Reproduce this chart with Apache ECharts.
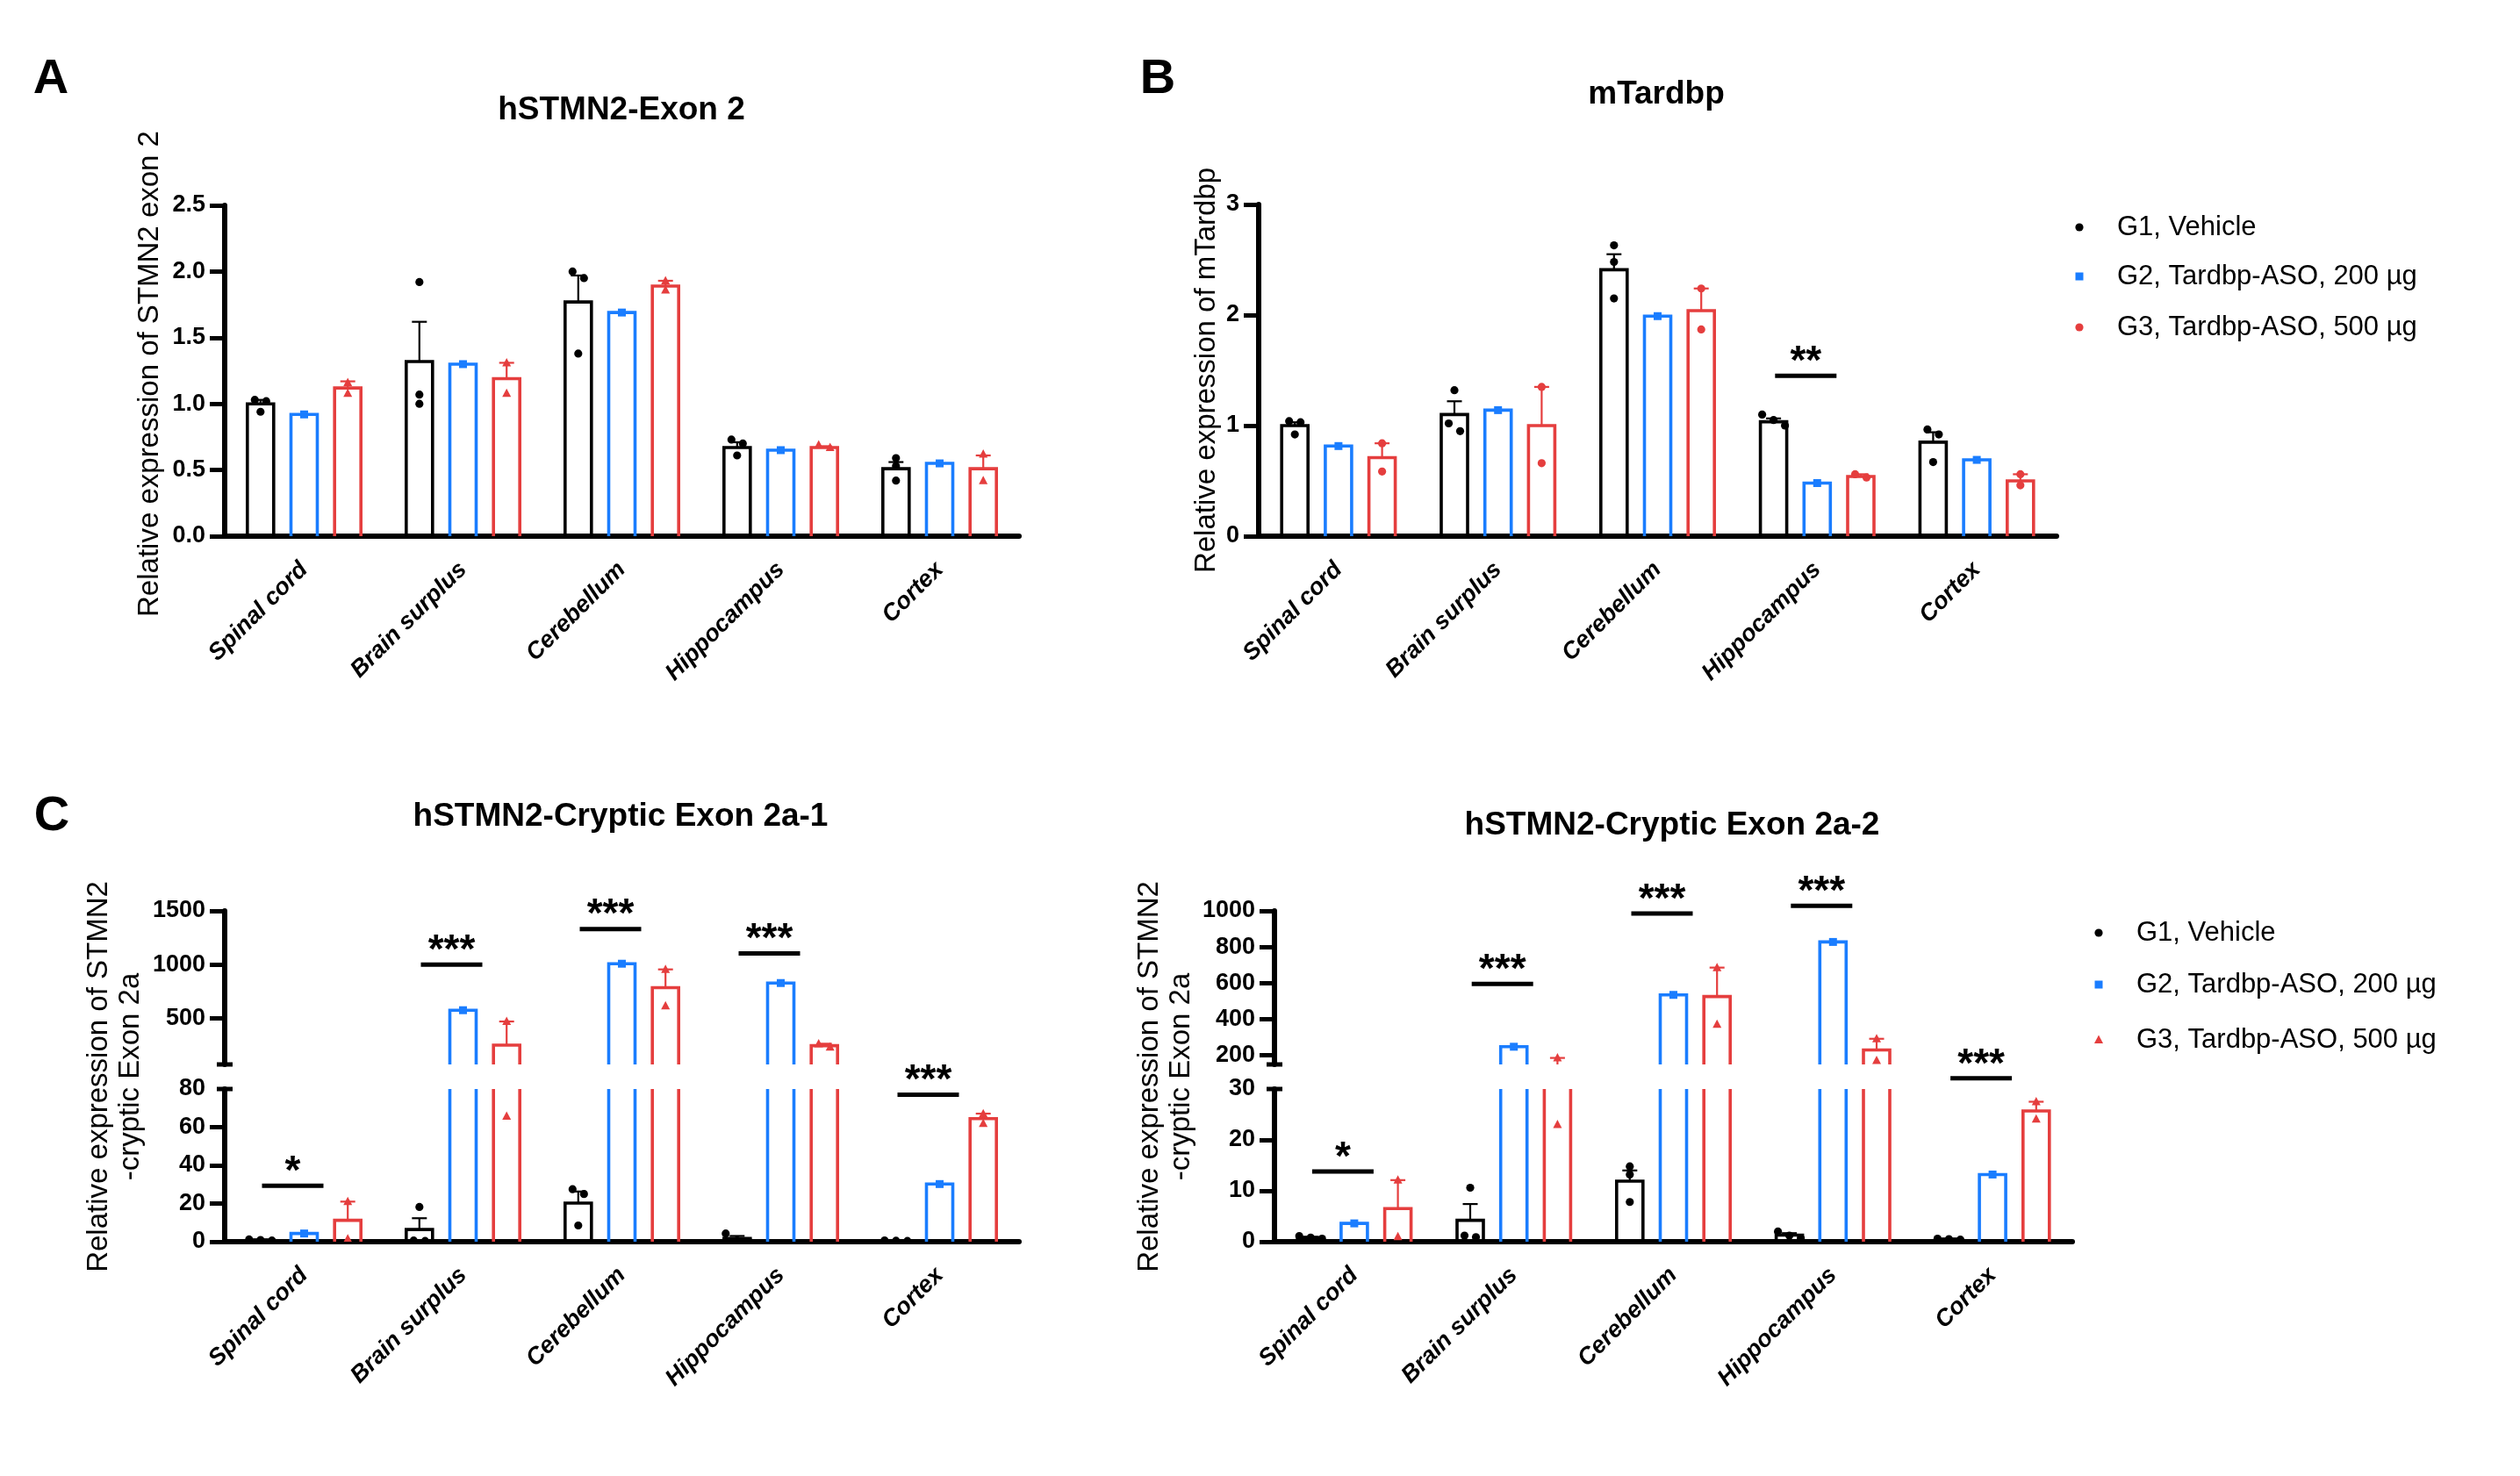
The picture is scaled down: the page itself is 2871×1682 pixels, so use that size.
<!DOCTYPE html>
<html>
<head>
<meta charset="utf-8">
<script src="https://cdn.jsdelivr.net/npm/echarts@6/dist/echarts.min.js"></script>
<style>
html, body { margin: 0; padding: 0; background: #fff; }
#main { width: 2871px; height: 1682px; }
</style>
</head>
<body>
<div id="main"></div>
<script>
var FONT = '"Liberation Sans", Arial, sans-serif';

var tissues = ['Spinal cord', 'Brain surplus', 'Cerebellum', 'Hippocampus', 'Cortex'];
var groupNames = ['G1, Vehicle', 'G2, Tardbp-ASO, 200 µg', 'G3, Tardbp-ASO, 500 µg'];
var groupColors = ['#000000', '#1a7dff', '#e53e3e'];

// A: hSTMN2-Exon 2
var exon2G1Mean = [1.00, 1.32, 1.77, 0.67, 0.51];
var exon2G1Sem = [0.03, 0.30, 0.20, 0.04, 0.05];
var exon2G1Pts = [[1.03, 1.02, 0.94], [1.92, 1.07, 1.00], [2.00, 1.95, 1.38], [0.73, 0.70, 0.61], [0.59, 0.53, 0.42]];
var exon2G2Mean = [0.92, 1.30, 1.69, 0.65, 0.55];
var exon2G3Mean = [1.12, 1.19, 1.89, 0.67, 0.51];
var exon2G3Sem = [0.05, 0.12, 0.04, 0.01, 0.10];
var exon2G3Pts = [[1.16, 1.08], [1.31, 1.08], [1.93, 1.86], [0.69, 0.67], [0.62, 0.42]];

// B: mTardbp
var tardG1Mean = [1.00, 1.10, 2.41, 1.035, 0.85];
var tardG1Sem = [0.03, 0.12, 0.14, 0.03, 0.09];
var tardG1Pts = [[1.04, 1.03, 0.92], [1.32, 1.02, 0.95], [2.63, 2.48, 2.15], [1.10, 1.05, 1.00], [0.965, 0.92, 0.67]];
var tardG2Mean = [0.815, 1.14, 1.99, 0.48, 0.69];
var tardG3Mean = [0.71, 1.00, 2.04, 0.54, 0.50];
var tardG3Sem = [0.13, 0.35, 0.20, 0.02, 0.06];
var tardG3Pts = [[0.84, 0.585], [1.35, 0.66], [2.24, 1.87], [0.56, 0.53], [0.56, 0.46]];
var tardSig = [{ cat: 3, val: 1.45, text: '**', seg: 0 }];

// C left: hSTMN2-Cryptic Exon 2a-1
var cry1G1Mean = [0.9, 6.4, 20.2, 1.7, 0.5];
var cry1G1Sem = [0.2, 5.9, 6.1, 1.3, 0.1];
var cry1G1Pts = [[1.2, 0.9, 0.6], [18.2, 0.6, 0.4], [27.5, 25, 8.5], [4.3, 0.6, 0.2], [0.7, 0.5, 0.4]];
var cry1G2Mean = [4.3, 575, 1008, 828, 30.2];
var cry1G3Mean = [11.2, 250, 785, 245, 64.5];
var cry1G3Sem = [9.8, 220, 170, 18, 2.6];
var cry1G3Pts = [[21, 1.5], [470, 65.7], [955, 615], [262, 232], [67, 62]];
var cry1Sig = [
    { cat: 0, val: 29.3, text: '*', seg: 1 },
    { cat: 1, val: 1000, text: '***', seg: 0 },
    { cat: 2, val: 1331, text: '***', seg: 0 },
    { cat: 3, val: 1104, text: '***', seg: 0 },
    { cat: 4, val: 77, text: '***', seg: 1 }
];

// C right: hSTMN2-Cryptic Exon 2a-2
var cry2G1Mean = [0.8, 4.2, 11.9, 1.3, 0.5];
var cry2G1Sem = [0.15, 3.2, 2.1, 0.38, 0.06];
var cry2G1Pts = [[1.1, 0.8, 0.6], [10.6, 1.2, 0.9], [14.8, 13.2, 7.8], [2.0, 1.2, 0.7], [0.6, 0.5, 0.4]];
var cry2G2Mean = [3.6, 248, 535, 828, 13.2];
var cry2G3Mean = [6.5, 104.5, 526, 230, 25.7];
var cry2G3Sem = [5.6, 81.5, 160, 62, 1.8];
var cry2G3Pts = [[12.1, 1.0], [186, 23], [686, 372], [292, 172], [27.5, 24.1]];
var cry2Sig = [
    { cat: 0, val: 13.8, text: '*', seg: 1 },
    { cat: 1, val: 596, text: '***', seg: 0 },
    { cat: 2, val: 986, text: '***', seg: 0 },
    { cat: 3, val: 1028, text: '***', seg: 0 },
    { cat: 4, val: 32.1, text: '***', seg: 1 }
];

var option = {
    animation: false,
    backgroundColor: '#fff',
    grid: [], xAxis: [], yAxis: [], series: [], graphic: []
};

// spread points that sit on top of each other (like a scatter dot plot)
function spreadX(ys) {
    var order = ys.map(function (y, i) { return i; }).sort(function (a, b) { return ys[a] - ys[b]; });
    var offs = ys.map(function () { return 0; });
    var i = 0;
    while (i < order.length) {
        var j = i;
        while (j + 1 < order.length && ys[order[j + 1]] - ys[order[j]] < 9) j++;
        var n = j - i + 1;
        for (var k = 0; k < n; k++) offs[order[i + k]] = (k - (n - 1) / 2) * 13;
        i = j + 1;
    }
    return offs;
}

function marker(shape, x, y, col) {
    if (shape === 'rect') {
        return { type: 'rect', shape: { x: x - 4.5, y: y - 4.5, width: 9, height: 9 }, style: { fill: col } };
    }
    if (shape === 'triangle') {
        return { type: 'polygon', shape: { points: [[x, y - 5.5], [x + 5, y + 4], [x - 5, y + 4]] }, style: { fill: col } };
    }
    return { type: 'circle', shape: { cx: x, cy: y, r: 4.6 }, style: { fill: col } };
}

function groupRenderer(g, means, sems, pts, shape, lo, hi) {
    var col = groupColors[g];
    function inside(v) { return v >= lo && v <= hi; }
    return function (params, api) {
        var i = params.dataIndex;
        var kids = [];
        var top = api.coord([i, means[i]]);
        var base = api.coord([i, 0]);
        var cx = top[0] + (g - 1) * 49.7;
        var hw = 15;
        if (means[i] >= lo) {   // bar top below this segment: leave the bar out
            kids.push({
                type: 'polyline',
                shape: { points: [[cx - hw, base[1]], [cx - hw, top[1]], [cx + hw, top[1]], [cx + hw, base[1]]] },
                style: { stroke: col, lineWidth: 3.6, fill: 'none', lineJoin: 'miter' }
            });
        }
        if (sems && sems[i] > 0) {
            var ev = means[i] + sems[i];
            var e = api.coord([i, ev]);
            if (ev >= lo) {
                kids.push({ type: 'line', shape: { x1: cx, y1: top[1], x2: cx, y2: e[1] }, style: { stroke: col, lineWidth: 2.2 } });
            }
            if (inside(ev)) {
                kids.push({ type: 'line', shape: { x1: cx - 8.5, y1: e[1], x2: cx + 8.5, y2: e[1] }, style: { stroke: col, lineWidth: 2.2 } });
            }
        }
        var vals = (pts ? pts[i] : [means[i]]).filter(inside);
        var ys = vals.map(function (v) { return api.coord([i, v])[1]; });
        var offs = spreadX(ys);
        ys.forEach(function (y, k) { kids.push(marker(shape, cx + offs[k], y, col)); });
        return { type: 'group', children: kids };
    };
}

function sigRenderer(list) {
    return function (params, api) {
        var s = list[params.dataIndex];
        var c = api.coord([s.cat, s.val]);
        var x0 = c[0] - 48, x1 = c[0] + 22;
        return {
            type: 'group',
            children: [
                { type: 'line', shape: { x1: x0, y1: c[1], x2: x1, y2: c[1] }, style: { stroke: '#000', lineWidth: 5 } },
                {
                    type: 'text', x: (x0 + x1) / 2, y: c[1] - 15,
                    style: { text: s.text, font: 'bold 46px ' + FONT, fill: '#000', align: 'center', verticalAlign: 'middle', textAlign: 'center', textVerticalAlign: 'middle' }
                }
            ]
        };
    };
}

function breakRenderer(atBottom) {
    return function (params) {
        var cs = params.coordSys;
        var y = atBottom ? cs.y + cs.height : cs.y;
        return { type: 'line', shape: { x1: cs.x - 9, y1: y, x2: cs.x + 9, y2: y }, style: { stroke: '#000', lineWidth: 5 } };
    };
}

function plain(v) { return String(v); }
function fmt1(v) { return v.toFixed(1); }

// one axis segment = one grid (broken axes use two)
function addSegment(seg, panel, segIndex) {
    var idx = option.grid.length;
    option.grid.push({ left: seg.left, top: seg.top, width: seg.width, height: seg.height });
    option.xAxis.push({
        type: 'category', gridIndex: idx, data: tissues, show: seg.showX,
        axisLine: { onZero: false, lineStyle: { color: '#000', width: 6 } },
        axisTick: { alignWithLabel: true, length: 17, lineStyle: { color: '#000', width: 5 } },
        axisLabel: { rotate: 45, margin: 34, color: '#000', fontSize: 27, fontWeight: 'bold', fontStyle: 'italic', fontFamily: FONT }
    });
    var y = {
        type: 'value', gridIndex: idx, min: seg.min, max: seg.max,
        axisLine: { show: true, lineStyle: { color: '#000', width: 6 } },
        axisTick: { show: true, length: 17, lineStyle: { color: '#000', width: 5 } },
        splitLine: { show: false },
        axisLabel: { margin: 22, color: '#000', fontSize: 27, fontWeight: 'bold', fontFamily: FONT, formatter: seg.fmt || plain }
    };
    if (seg.interval) y.interval = seg.interval;
    if (seg.ticks) {
        y.axisTick.customValues = seg.ticks;
        y.axisLabel.customValues = seg.labels;
    }
    option.yAxis.push(y);

    var cats = tissues.map(function (t, i) { return [i, 0]; });
    panel.groups.forEach(function (gr, g) {
        option.series.push({
            type: 'custom', name: groupNames[g], xAxisIndex: idx, yAxisIndex: idx,
            clip: true, data: cats, encode: { x: 0, y: 1 },
            renderItem: groupRenderer(g, gr.mean, gr.sem, gr.pts, gr.shape, seg.min, seg.max)
        });
    });
    if (panel.sig) {
        var mine = panel.sig.filter(function (s) { return s.seg === segIndex; });
        if (mine.length) {
            option.series.push({
                type: 'custom', xAxisIndex: idx, yAxisIndex: idx, clip: false, z: 5,
                data: mine.map(function (s) { return [s.cat, s.val]; }), encode: { x: 0, y: 1 },
                renderItem: sigRenderer(mine)
            });
        }
    }
    if (seg.breakMark) {
        option.series.push({
            type: 'custom', xAxisIndex: idx, yAxisIndex: idx, clip: false, z: 6,
            data: [[0, seg.min]], encode: { x: 0, y: 1 },
            renderItem: breakRenderer(seg.breakMark === 'bottom')
        });
    }
}

function text(str, x, y, font, rotation) {
    option.graphic.push({
        type: 'text', x: x, y: y, rotation: rotation || 0,
        style: { text: str, font: font, fill: '#000', textAlign: 'center', textVerticalAlign: 'middle', lineHeight: 36 }
    });
}

function legendAt(mx, tx, rows, redShape) {
    var shapes = ['circle', 'rect', redShape];
    rows.forEach(function (y, g) {
        option.graphic.push(marker(shapes[g], mx, y, groupColors[g]));
        option.graphic.push({
            type: 'text', x: tx, y: y,
            style: { text: groupNames[g], font: '31px ' + FONT, fill: '#000', textAlign: 'left', textVerticalAlign: 'middle' }
        });
    });
}

// panel A
addSegment({ left: 256, top: 234, width: 905, height: 377, min: 0, max: 2.5, interval: 0.5, fmt: fmt1, showX: true }, {
    groups: [
        { mean: exon2G1Mean, sem: exon2G1Sem, pts: exon2G1Pts, shape: 'circle' },
        { mean: exon2G2Mean, sem: null, pts: null, shape: 'rect' },
        { mean: exon2G3Mean, sem: exon2G3Sem, pts: exon2G3Pts, shape: 'triangle' }
    ]
}, 0);

// panel B
addSegment({ left: 1434, top: 233, width: 909, height: 378, min: 0, max: 3, interval: 1, showX: true }, {
    groups: [
        { mean: tardG1Mean, sem: tardG1Sem, pts: tardG1Pts, shape: 'circle' },
        { mean: tardG2Mean, sem: null, pts: null, shape: 'rect' },
        { mean: tardG3Mean, sem: tardG3Sem, pts: tardG3Pts, shape: 'circle' }
    ],
    sig: tardSig
}, 0);

// panel C, left
var cry1Panel = {
    groups: [
        { mean: cry1G1Mean, sem: cry1G1Sem, pts: cry1G1Pts, shape: 'circle' },
        { mean: cry1G2Mean, sem: null, pts: null, shape: 'rect' },
        { mean: cry1G3Mean, sem: cry1G3Sem, pts: cry1G3Pts, shape: 'triangle' }
    ],
    sig: cry1Sig
};
addSegment({ left: 256, top: 1038, width: 905, height: 175, min: 70, max: 1500, ticks: [500, 1000, 1500], labels: [500, 1000, 1500], showX: false, breakMark: 'bottom' }, cry1Panel, 0);
addSegment({ left: 256, top: 1241, width: 905, height: 174, min: 0, max: 80, interval: 20, ticks: [0, 20, 40, 60], labels: [0, 20, 40, 60, 80], showX: true, breakMark: 'top' }, cry1Panel, 1);

// panel C, right
var cry2Panel = {
    groups: [
        { mean: cry2G1Mean, sem: cry2G1Sem, pts: cry2G1Pts, shape: 'circle' },
        { mean: cry2G2Mean, sem: null, pts: null, shape: 'rect' },
        { mean: cry2G3Mean, sem: cry2G3Sem, pts: cry2G3Pts, shape: 'triangle' }
    ],
    sig: cry2Sig
};
addSegment({ left: 1452, top: 1038, width: 909, height: 175, min: 150, max: 1000, ticks: [200, 400, 600, 800, 1000], labels: [200, 400, 600, 800, 1000], showX: false, breakMark: 'bottom' }, cry2Panel, 0);
addSegment({ left: 1452, top: 1241, width: 909, height: 174, min: 0, max: 30, interval: 10, ticks: [0, 10, 20], labels: [0, 10, 20, 30], showX: true, breakMark: 'top' }, cry2Panel, 1);

// letters, titles, axis names, legends
text('A', 58, 91, 'bold 56px ' + FONT);
text('B', 1319, 91, 'bold 56px ' + FONT);
text('C', 59, 931, 'bold 56px ' + FONT);
text('hSTMN2-Exon 2', 708, 126, 'bold 37px ' + FONT);
text('mTardbp', 1887, 108, 'bold 37px ' + FONT);
text('hSTMN2-Cryptic Exon 2a-1', 707, 931, 'bold 37px ' + FONT);
text('hSTMN2-Cryptic Exon 2a-2', 1905, 941, 'bold 37px ' + FONT);
text('Relative expression of STMN2 exon 2', 171, 426, '33px ' + FONT, Math.PI / 2);
text('Relative expression of mTardbp', 1375, 422, '33px ' + FONT, Math.PI / 2);
text('Relative expression of STMN2\n-cryptic Exon 2a', 131, 1227, '33px ' + FONT, Math.PI / 2);
text('Relative expression of STMN2\n-cryptic Exon 2a', 1328, 1227, '33px ' + FONT, Math.PI / 2);
legendAt(2369, 2412, [259, 315, 373], 'circle');
legendAt(2391, 2434, [1063, 1122, 1185], 'triangle');

var chart = echarts.init(document.getElementById('main'));
chart.setOption(option);
</script>
</body>
</html>
